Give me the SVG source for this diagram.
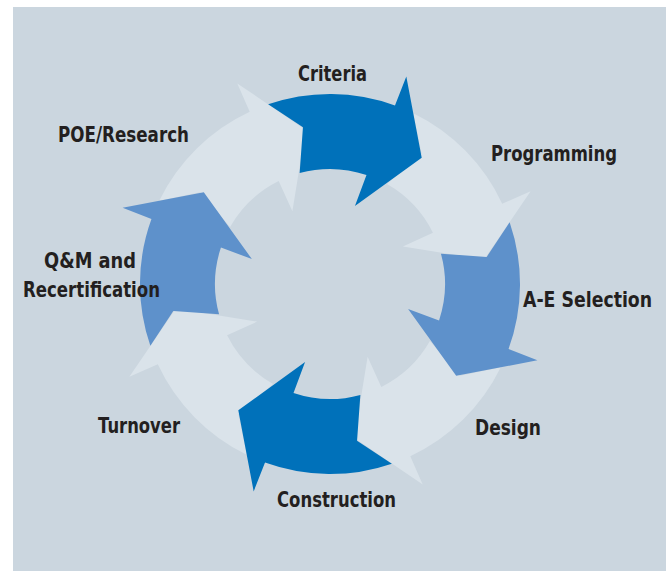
<svg xmlns="http://www.w3.org/2000/svg" xmlns:xlink="http://www.w3.org/1999/xlink" width="666" height="572" viewBox="0 0 666 572">
  <style>
    .bg { fill: #CBD6DF; }
    .light { fill: #DAE3EA; }
    .mid { fill: #5E91CB; }
    .dark { fill: #0071BA; }
    .lbl { font-family: "DejaVu Sans", "Liberation Sans", Arial, sans-serif; font-weight: bold; font-size: 21px; fill: #231F20; }
  </style>
  <defs>
    <path id="arrow" d="M -61.86 -179.65 A 190 190 0 0 1 64.98 -178.54 L 76.31 -207.41 L 91.70 -126.21 L 24.93 -78.12 L 36.49 -109.05 A 115 115 0 0 0 -30.35 -110.93 L -27.06 -156.68 Z"/>
  </defs>
  <rect class="bg" x="13" y="7" width="653" height="564"/>
  <g id="connectors"/>
  <g id="programming">
    <use xlink:href="#arrow" class="light" transform="translate(330 284) rotate(45)"/>
    <text class="lbl" x="491" y="161" textLength="126" lengthAdjust="spacingAndGlyphs">Programming</text>
  </g>
  <g id="design">
    <use xlink:href="#arrow" class="light" transform="translate(330 284) rotate(135)"/>
    <text class="lbl" x="475" y="435" textLength="66" lengthAdjust="spacingAndGlyphs">Design</text>
  </g>
  <g id="turnover">
    <use xlink:href="#arrow" class="light" transform="translate(330 284) rotate(225)"/>
    <text class="lbl" x="98" y="433" textLength="82" lengthAdjust="spacingAndGlyphs">Turnover</text>
  </g>
  <g id="poe-research">
    <use xlink:href="#arrow" class="light" transform="translate(330 284) rotate(315)"/>
    <text class="lbl" x="58" y="142" textLength="131" lengthAdjust="spacingAndGlyphs">POE/Research</text>
  </g>
  <g id="criteria">
    <use xlink:href="#arrow" class="dark" transform="translate(330 284)"/>
    <text class="lbl" x="298" y="81" textLength="69" lengthAdjust="spacingAndGlyphs">Criteria</text>
  </g>
  <g id="ae-selection">
    <use xlink:href="#arrow" class="mid" transform="translate(330 284) rotate(90)"/>
    <text class="lbl" x="0" y="0" transform="translate(523 307) scale(0.825 1)">A-E Selection</text>
  </g>
  <g id="construction">
    <use xlink:href="#arrow" class="dark" transform="translate(330 284) rotate(180)"/>
    <text class="lbl" x="277" y="507" textLength="119" lengthAdjust="spacingAndGlyphs">Construction</text>
  </g>
  <g id="qm-recertification">
    <use xlink:href="#arrow" class="mid" transform="translate(330 284) rotate(270)"/>
    <text class="lbl" x="44" y="268" textLength="92" lengthAdjust="spacingAndGlyphs">Q&amp;M and</text>
    <text class="lbl" x="23" y="297" textLength="137" lengthAdjust="spacingAndGlyphs">Recertification</text>
  </g>
</svg>
